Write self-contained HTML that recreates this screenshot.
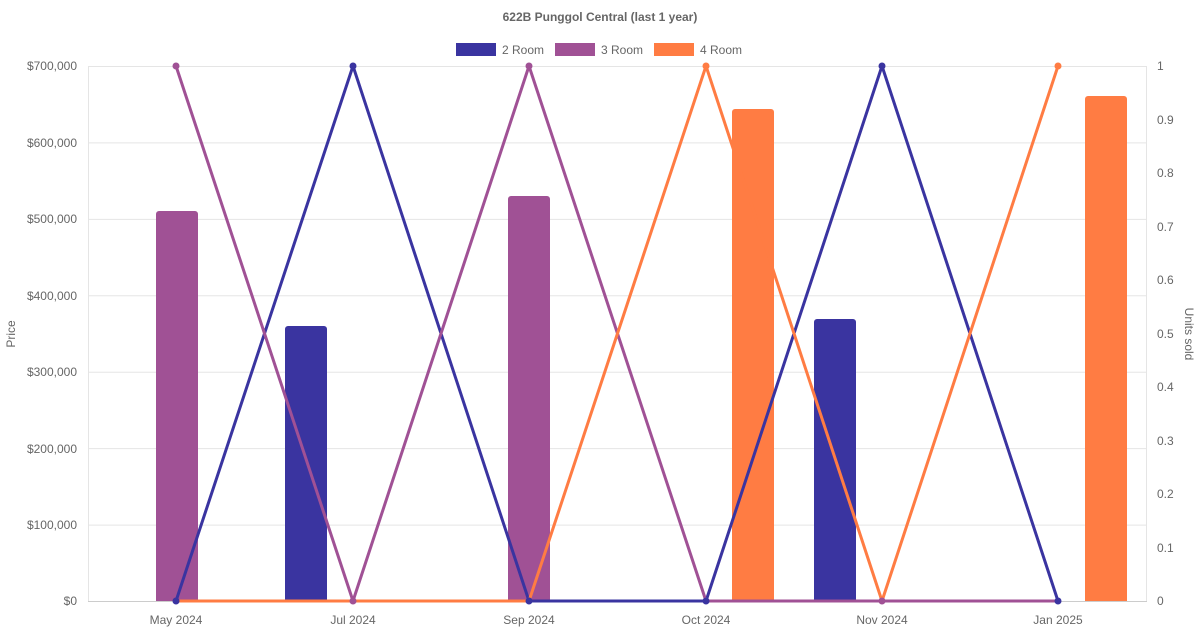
<!DOCTYPE html>
<html><head><meta charset="utf-8"><style>
body{margin:0;background:#fff;}
text{font-family:"Liberation Sans",sans-serif;fill:#666;}
</style></head><body>
<svg width="1200" height="630" xmlns="http://www.w3.org/2000/svg">
<text x="600" y="21" font-size="12" font-weight="bold" text-anchor="middle">622B Punggol Central (last 1 year)</text>
<rect x="456" y="43" width="40" height="13" fill="#3a34a0"/><text x="502" y="54" font-size="12">2 Room</text>
<rect x="555" y="43" width="40" height="13" fill="#a05195"/><text x="601" y="54" font-size="12">3 Room</text>
<rect x="654" y="43" width="40" height="13" fill="#ff7c43"/><text x="700" y="54" font-size="12">4 Room</text>
<g stroke="#e5e5e5" stroke-width="1">
<line x1="88" y1="66.5" x2="1147" y2="66.5"/><line x1="88" y1="142.9" x2="1147" y2="142.9"/>
<line x1="88" y1="219.4" x2="1147" y2="219.4"/><line x1="88" y1="295.8" x2="1147" y2="295.8"/>
<line x1="88" y1="372.2" x2="1147" y2="372.2"/><line x1="88" y1="448.6" x2="1147" y2="448.6"/>
<line x1="88" y1="525.1" x2="1147" y2="525.1"/>
<line x1="88.5" y1="66" x2="88.5" y2="601"/><line x1="1146.5" y1="66" x2="1146.5" y2="601"/>
</g>
<line x1="88" y1="601.5" x2="1147" y2="601.5" stroke="#ccc"/>
<g font-size="12" text-anchor="end">
<text x="77" y="70">$700,000</text><text x="77" y="147">$600,000</text><text x="77" y="223">$500,000</text>
<text x="77" y="300">$400,000</text><text x="77" y="376">$300,000</text><text x="77" y="453">$200,000</text>
<text x="77" y="529">$100,000</text><text x="77" y="605">$0</text>
</g>
<g font-size="12">
<text x="1157" y="70">1</text><text x="1157" y="124">0.9</text><text x="1157" y="177">0.8</text>
<text x="1157" y="231">0.7</text><text x="1157" y="284">0.6</text><text x="1157" y="338">0.5</text>
<text x="1157" y="391">0.4</text><text x="1157" y="445">0.3</text><text x="1157" y="498">0.2</text>
<text x="1157" y="552">0.1</text><text x="1157" y="605">0</text>
</g>
<g font-size="12" text-anchor="middle">
<text x="176" y="624">May 2024</text><text x="353" y="624">Jul 2024</text><text x="529" y="624">Sep 2024</text>
<text x="706" y="624">Oct 2024</text><text x="882" y="624">Nov 2024</text><text x="1058" y="624">Jan 2025</text>
</g>
<text transform="translate(15,334) rotate(-90)" font-size="12" text-anchor="middle">Price</text>
<text transform="translate(1185,334) rotate(90)" font-size="12" text-anchor="middle">Units sold</text>
<path d="M156,601V214a3,3 0 0 1 3,-3h36a3,3 0 0 1 3,3V601Z" fill="#a05195"/>
<path d="M285,601V329a3,3 0 0 1 3,-3h36a3,3 0 0 1 3,3V601Z" fill="#3a34a0"/>
<path d="M508,601V199a3,3 0 0 1 3,-3h36a3,3 0 0 1 3,3V601Z" fill="#a05195"/>
<path d="M732,601V112a3,3 0 0 1 3,-3h36a3,3 0 0 1 3,3V601Z" fill="#ff7c43"/>
<path d="M814,601V322a3,3 0 0 1 3,-3h36a3,3 0 0 1 3,3V601Z" fill="#3a34a0"/>
<path d="M1085,601V99a3,3 0 0 1 3,-3h36a3,3 0 0 1 3,3V601Z" fill="#ff7c43"/>
<g fill="none" stroke-width="3" stroke-linejoin="round">
<polyline stroke="#3a34a0" points="176,601 353,66 529,601 706,601 882,66 1058,601"/>
<polyline stroke="#a05195" points="176,66 353,601 529,66 706,601 882,601 1058,601"/>
<polyline stroke="#ff7c43" points="176,601 353,601 529,601 706,66 882,601 1058,66"/>
</g>
<g fill="#3a34a0"><circle cx="176" cy="601" r="3.5"/><circle cx="353" cy="66" r="3.5"/><circle cx="529" cy="601" r="3.5"/><circle cx="706" cy="601" r="3.5"/><circle cx="882" cy="66" r="3.5"/><circle cx="1058" cy="601" r="3.5"/></g>
<g fill="#a05195"><circle cx="176" cy="66" r="3.5"/><circle cx="353" cy="601" r="3.5"/><circle cx="529" cy="66" r="3.5"/><circle cx="882" cy="601" r="3.5"/></g>
<g fill="#ff7c43"><circle cx="706" cy="66" r="3.5"/><circle cx="1058" cy="66" r="3.5"/></g>
</svg>
</body></html>
